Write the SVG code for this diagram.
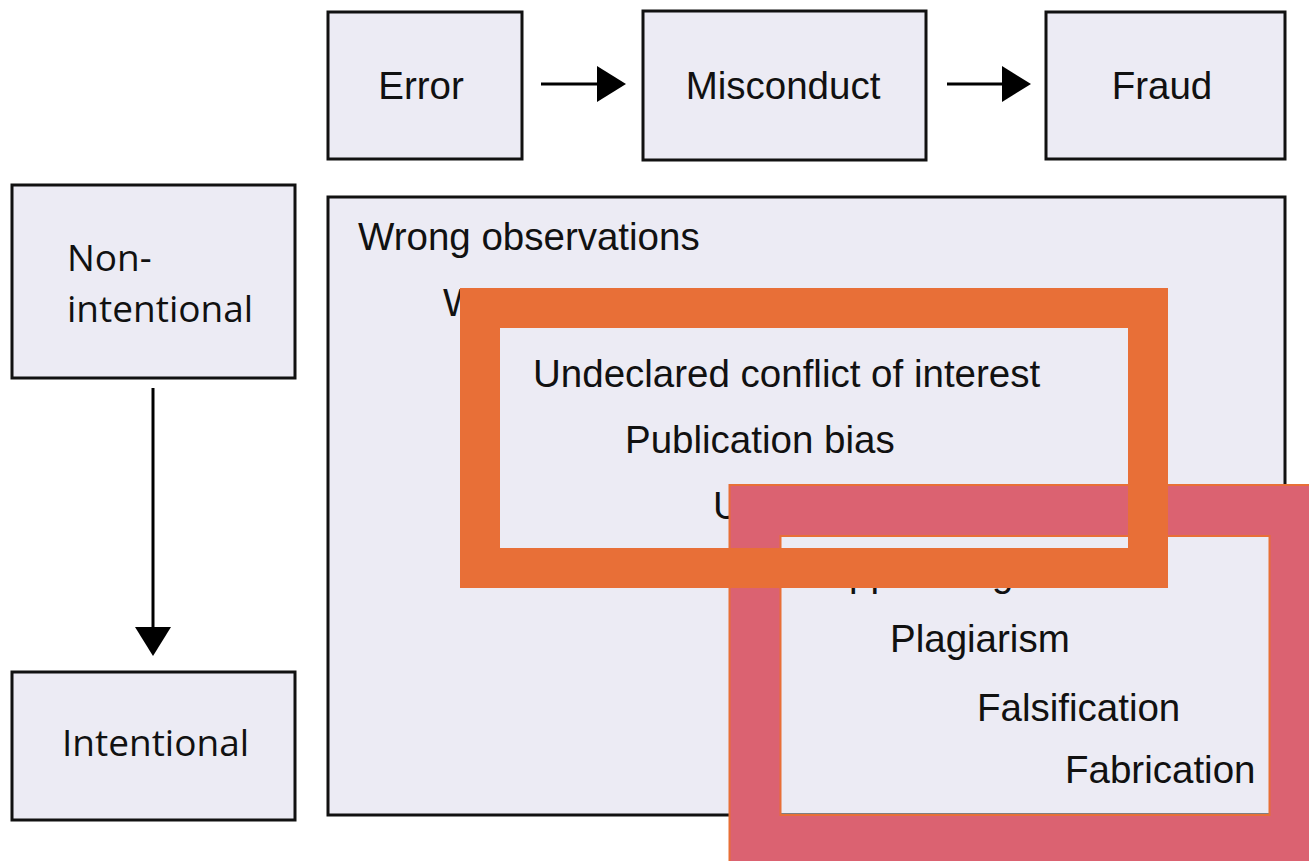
<svg xmlns="http://www.w3.org/2000/svg" width="1309" height="861" viewBox="0 0 1309 861">
<style>
.box{fill:#ecebf4;stroke:#111;stroke-width:3}
.t{font-family:"Liberation Sans",Arial,sans-serif;font-size:38.5px;fill:#111}
.tl{font-family:"Open Sans","Liberation Sans",sans-serif;font-size:37px;fill:#111}
.conn{stroke:#000;stroke-width:3;fill:none}
</style>
<defs>
<marker id="ah" markerUnits="userSpaceOnUse" markerWidth="30" markerHeight="36" refX="17" refY="18" orient="auto">
<path d="M0,0 L29,18 L0,36 Z" fill="#000"/>
</marker>
</defs>
<rect width="1309" height="861" fill="#fff"/>
<g id="error"><rect class="box" x="328" y="12" width="194" height="147"/><text class="t" x="421" y="99" text-anchor="middle">Error</text></g>
<g id="misconduct"><rect class="box" x="643" y="11" width="283" height="149"/><text class="t" x="783" y="99" text-anchor="middle">Misconduct</text></g>
<g id="fraud"><rect class="box" x="1046" y="12" width="239" height="147"/><text class="t" x="1162" y="99" text-anchor="middle">Fraud</text></g>
<g id="nonintentional"><rect class="box" x="12" y="185" width="283" height="193"/><text class="tl" x="67" y="271">Non-</text><text class="tl" x="67" y="322">intentional</text></g>
<g id="intentional"><rect class="box" x="12" y="672" width="283" height="148"/><text class="tl" x="62" y="756">Intentional</text></g>
<g id="spectrum">
<rect class="box" x="328" y="197" width="957" height="618"/>
<text class="t" x="358" y="250">Wrong observations</text>
<text class="t" x="443" y="316">W</text>
<text class="t" x="533" y="387">Undeclared conflict of interest</text>
<text class="t" x="625" y="453">Publication bias</text>
<text class="t" x="713" y="519">U</text>
<text class="t" x="849" y="586">pp</text>
<text class="t" x="992" y="586">g</text>
<text class="t" x="890" y="652">Plagiarism</text>
<text class="t" x="977" y="721">Falsification</text>
<text class="t" x="1065" y="783">Fabrication</text>
</g>
<g id="connectors">
<line class="conn" x1="541" y1="84" x2="614" y2="84" marker-end="url(#ah)"/>
<line class="conn" x1="947" y1="84" x2="1019" y2="84" marker-end="url(#ah)"/>
<line class="conn" x1="153" y1="388" x2="153" y2="644" marker-end="url(#ah)"/>
</g>
<g id="pink-frame">
<rect x="755" y="510.5" width="540" height="330" fill="none" stroke="#e86f37" stroke-width="53"/>
<rect x="755" y="510.5" width="540" height="330" fill="none" stroke="#db6271" stroke-width="49"/>
</g>
<g id="orange-frame">
<rect x="480" y="308" width="668" height="260" fill="none" stroke="#e86f37" stroke-width="40"/>
</g>
</svg>
